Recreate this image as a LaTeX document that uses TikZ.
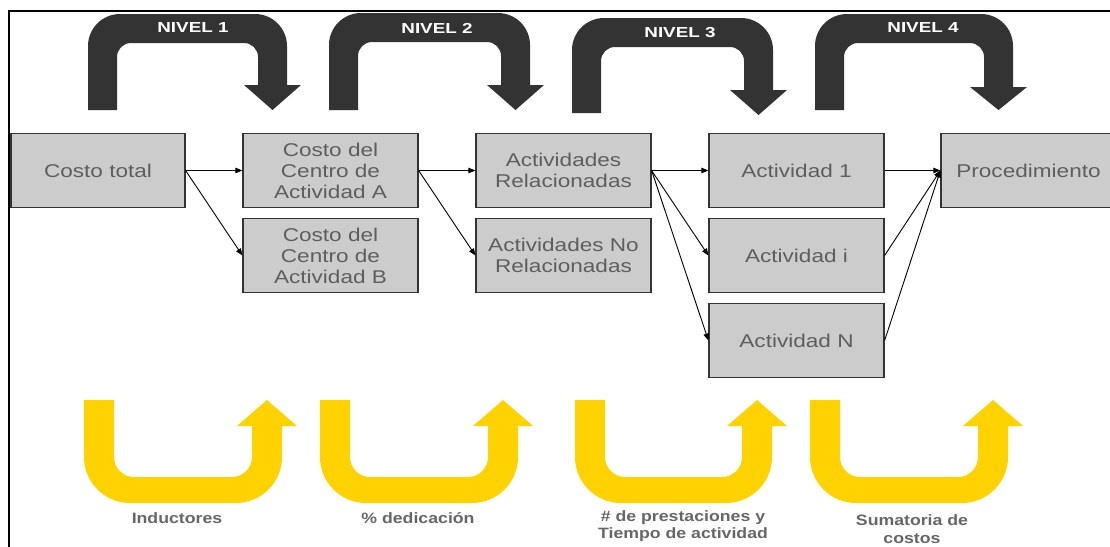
\documentclass[tikz,border=0pt]{standalone}
\usepackage{fontspec}
\setmainfont{Liberation Sans}
\newfontfamily\boxfont{Liberation Sans}[FakeStretch=1.22]
\newfontfamily\nivfont{Liberation Sans}[FakeStretch=1.3]
\newfontfamily\lblfont{Liberation Sans}[FakeStretch=1.18]
\usetikzlibrary{arrows.meta}
\definecolor{darkarrow}{HTML}{333333}
\definecolor{yelarrow}{HTML}{FFD200}
\definecolor{boxfill}{HTML}{CCCCCC}
\definecolor{boxtext}{HTML}{5E5E5E}
\definecolor{lbltext}{HTML}{666666}
% dark top arrow: L R T B H tipY
\newcommand{\toparrow}[6]{%
  \fill[darkarrow]
   (#1,#4) -- (#1,#3+32)
   arc[start angle=180,end angle=270,radius=32] -- (#2-32,#3)
   arc[start angle=270,end angle=360,radius=32] -- (#2,#5) -- (#2+14,#5)
   -- (#2-14.5,#6) -- (#2-29-14,#5) -- (#2-29,#5) -- (#2-29,#3+29+14)
   arc[start angle=0,end angle=-90,radius=14] -- (#1+29+14,#3+29)
   arc[start angle=270,end angle=180,radius=14] -- (#1+29,#4) -- cycle;}
% yellow bottom arrow: L R
\newcommand{\botarrow}[2]{%
  \fill[yelarrow]
   (#1,400) -- (#1,503-46)
   arc[start angle=180,end angle=90,radius=46] -- (#2-46,503)
   arc[start angle=90,end angle=0,radius=46] -- (#2,426) -- (#2+15,426)
   -- (#2-15,400) -- (#2-30-15,426) -- (#2-30,426) -- (#2-30,477-20)
   arc[start angle=0,end angle=90,radius=20] -- (#1+30+20,477)
   arc[start angle=90,end angle=180,radius=20] -- (#1+30,400) -- cycle;}
\tikzset{
  box/.style={draw=darkarrow, line width=1.2pt, fill=boxfill, minimum width=175pt,
    minimum height=74pt, inner sep=0pt, align=center, text=boxtext,
    font=\boxfont\fontsize{18.5}{21}\selectfont},
  nivel/.style={text=white, inner sep=0pt, font=\nivfont\bfseries\fontsize{14.5}{16}\selectfont},
  lbl/.style={text=lbltext, inner sep=0pt, align=center, font=\lblfont\bfseries\fontsize{15}{17.5}\selectfont},
  conn/.style={draw=black, line width=0.9pt, -{Triangle[length=7pt,width=5.5pt]}}
}
\begin{document}
\begin{tikzpicture}[x=1pt,y=-1pt]
\useasboundingbox (0,0) rectangle (1110,546);
% frame
\coordinate (fbl) at (9,560);
\coordinate (ftl) at (9,11);
\coordinate (ftr) at (1125,11);
\draw[line width=1.6pt, black] (fbl) -- (ftl) -- (ftr);
% top dark arrows
\toparrow{88}{287}{14}{110}{85}{110}
\toparrow{329}{530}{13}{110}{85}{110}
\toparrow{572}{773}{18}{113}{90}{115}
\toparrow{815}{1013}{14}{110}{87}{110}
\node[nivel] (n1) at (193,28) {NIVEL 1};
\node[nivel] (n2) at (437,28) {NIVEL 2};
\node[nivel] (n3) at (680,33) {NIVEL 3};
\node[nivel] (n4) at (923,28) {NIVEL 4};
% boxes
\node[box, minimum width=174pt] (ct) at (98,170.5) {Costo total};
\node[box] (ca) at (330.5,170.5) {Costo del\\Centro de\\Actividad A};
\node[box] (cb) at (330.5,255.5) {Costo del\\Centro de\\Actividad B};
\node[box] (ar) at (563.5,170.5) {Actividades\\Relacionadas};
\node[box] (anr) at (563.5,255.5) {Actividades No\\Relacionadas};
\node[box] (a1) at (796.5,170.5) {Actividad 1};
\node[box] (ai) at (796.5,255.5) {Actividad i};
\node[box] (an) at (796.5,340.5) {Actividad N};
\node[box] (pr) at (1028.5,170.5) {Procedimiento};
% connectors
\draw[conn] (ct.east) -- (ca.west);
\draw[conn] (ct.east) -- (cb.west);
\draw[conn] (ca.east) -- (ar.west);
\draw[conn] (ca.east) -- (anr.west);
\draw[conn] (ar.east) -- (a1.west);
\draw[conn] (ar.east) -- (ai.west);
\draw[conn] (ar.east) -- (an.west);
\draw[conn] (a1.east) -- (pr.west);
\draw[conn] (ai.east) -- (pr.west);
\draw[conn] (an.east) -- (pr.west);
% bottom yellow arrows
\botarrow{84}{282}
\botarrow{320}{518}
\botarrow{575}{772}
\botarrow{810}{1008}
\node[lbl] (l1) at (177,518) {Inductores};
\node[lbl] (l2) at (418,518) {\% dedicación};
\node[lbl] (l3) at (683,526) {\# de prestaciones y\\Tiempo de actividad};
\node[lbl] (l4) at (912,529) {Sumatoria de\\costos};
\end{tikzpicture}
\end{document}
